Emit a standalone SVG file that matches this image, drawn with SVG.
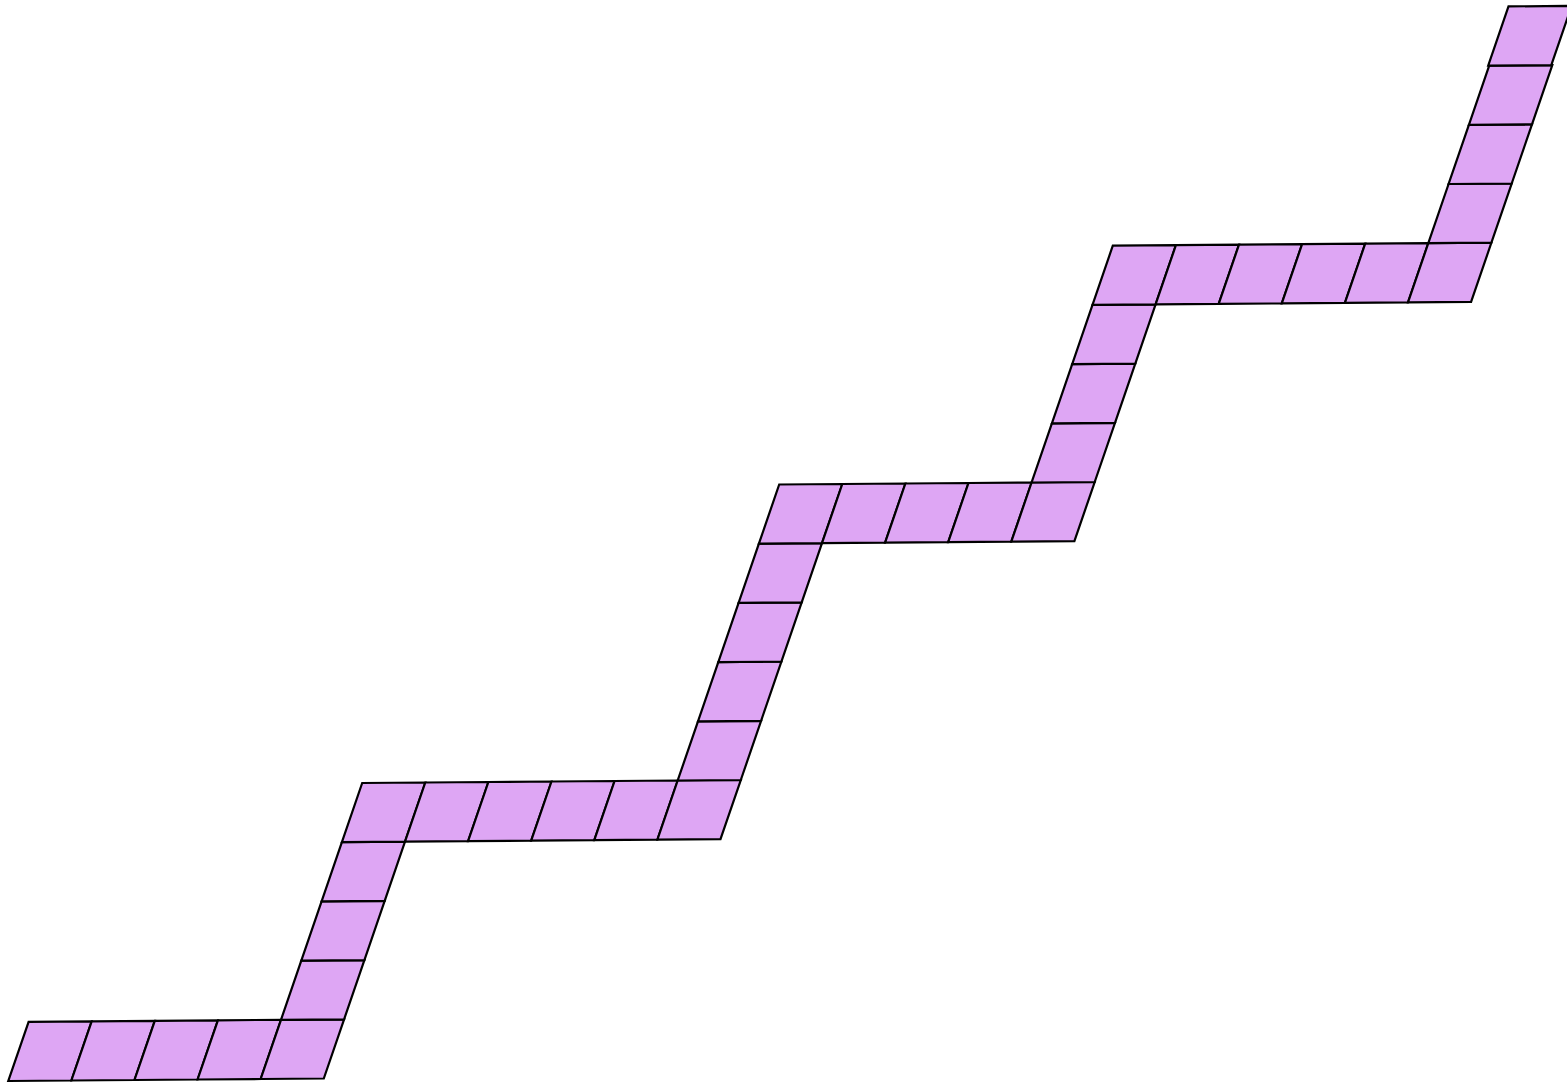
<svg xmlns="http://www.w3.org/2000/svg" xmlns:xlink="http://www.w3.org/1999/xlink" width="1567" height="1083" viewBox="0 0 1567 1083">
<style>
.cell{fill:#dea6f4;stroke:#000;stroke-width:2.2;stroke-linejoin:miter}
</style>
<defs>
<polygon id="c" class="cell" points="0,0 63.1,-0.5 83.4,-59.7 20.3,-59.2"/>
</defs>
<rect width="1567" height="1083" fill="#fff"/>
<g id="row1">
<use href="#c" xlink:href="#c" transform="translate(8.3,1081)"/>
<use href="#c" xlink:href="#c" transform="translate(71.4,1080.5)"/>
<use href="#c" xlink:href="#c" transform="translate(134.5,1080)"/>
<use href="#c" xlink:href="#c" transform="translate(197.6,1079.5)"/>
<use href="#c" xlink:href="#c" transform="translate(260.7,1079)"/>
</g>
<g id="col1">
<use href="#c" xlink:href="#c" transform="translate(281,1019.8)"/>
<use href="#c" xlink:href="#c" transform="translate(301.3,960.6)"/>
<use href="#c" xlink:href="#c" transform="translate(321.6,901.4)"/>
</g>
<g id="row2">
<use href="#c" xlink:href="#c" transform="translate(341.9,842.2)"/>
<use href="#c" xlink:href="#c" transform="translate(405,841.7)"/>
<use href="#c" xlink:href="#c" transform="translate(468.1,841.2)"/>
<use href="#c" xlink:href="#c" transform="translate(531.2,840.7)"/>
<use href="#c" xlink:href="#c" transform="translate(594.3,840.2)"/>
<use href="#c" xlink:href="#c" transform="translate(657.4,839.7)"/>
</g>
<g id="col2">
<use href="#c" xlink:href="#c" transform="translate(677.7,780.5)"/>
<use href="#c" xlink:href="#c" transform="translate(698,721.3)"/>
<use href="#c" xlink:href="#c" transform="translate(718.3,662.1)"/>
<use href="#c" xlink:href="#c" transform="translate(738.6,602.9)"/>
</g>
<g id="row3">
<use href="#c" xlink:href="#c" transform="translate(758.9,543.7)"/>
<use href="#c" xlink:href="#c" transform="translate(822,543.2)"/>
<use href="#c" xlink:href="#c" transform="translate(885.1,542.7)"/>
<use href="#c" xlink:href="#c" transform="translate(948.2,542.2)"/>
<use href="#c" xlink:href="#c" transform="translate(1011.3,541.7)"/>
</g>
<g id="col3">
<use href="#c" xlink:href="#c" transform="translate(1031.6,482.5)"/>
<use href="#c" xlink:href="#c" transform="translate(1051.9,423.3)"/>
<use href="#c" xlink:href="#c" transform="translate(1072.2,364.1)"/>
</g>
<g id="row4">
<use href="#c" xlink:href="#c" transform="translate(1092.5,304.9)"/>
<use href="#c" xlink:href="#c" transform="translate(1155.6,304.4)"/>
<use href="#c" xlink:href="#c" transform="translate(1218.7,303.9)"/>
<use href="#c" xlink:href="#c" transform="translate(1281.8,303.4)"/>
<use href="#c" xlink:href="#c" transform="translate(1344.9,302.9)"/>
<use href="#c" xlink:href="#c" transform="translate(1408,302.4)"/>
</g>
<g id="col4">
<use href="#c" xlink:href="#c" transform="translate(1428.3,243.2)"/>
<use href="#c" xlink:href="#c" transform="translate(1448.6,184)"/>
<use href="#c" xlink:href="#c" transform="translate(1468.9,124.8)"/>
<use href="#c" xlink:href="#c" transform="translate(1488.2,65.6)"/>
</g>
</svg>
